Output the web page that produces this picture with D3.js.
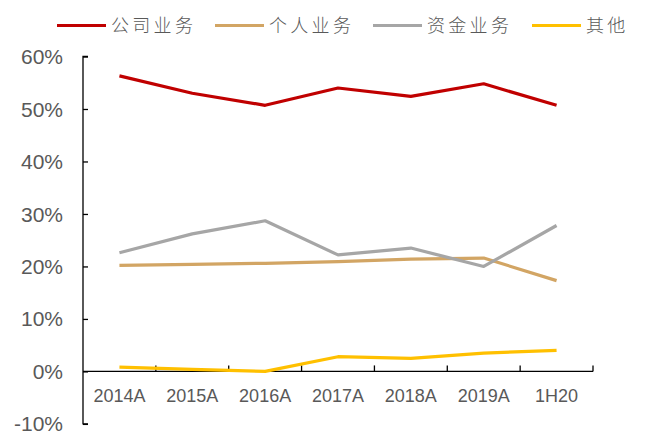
<!doctype html>
<html lang="zh">
<head>
<meta charset="utf-8">
<title>业务结构</title>
<style>
  body { margin: 0; background: #fff; }
  svg text { font-family: "Liberation Sans", Arial, sans-serif; fill: #595959; }
  .legend text { font-family: "Noto Sans CJK SC", sans-serif; font-weight: 300; }
</style>
</head>
<body>
<div id="chart"></div>
<script src="https://d3js.org/d3.v7.min.js"></script>
<script>
// categories and series (percent)
var years = ["2014A", "2015A", "2016A", "2017A", "2018A", "2019A", "1H20"];
var corporate = [56.3, 53.0, 50.7, 54.0, 52.4, 54.8, 50.7];   // 公司业务
var personal  = [20.2, 20.4, 20.6, 20.9, 21.4, 21.6, 17.3];   // 个人业务
var treasury  = [22.6, 26.2, 28.7, 22.2, 23.5, 20.0, 27.8];   // 资金业务
var other     = [0.8, 0.4, 0.0, 2.8, 2.5, 3.5, 4.0];          // 其他
var seriesNames = ["公司业务", "个人业务", "资金业务", "其他"];
var seriesColors = ["#C00000", "#D2A564", "#A6A6A6", "#FFC000"];
var yTicks = [-10, 0, 10, 20, 30, 40, 50, 60];

var width = 662, height = 436;
var margin = {top: 56.5, right: 69, bottom: 11.5, left: 83};

var svg = d3.select("#chart")
  .append("svg")
    .attr("width", width)
    .attr("height", height);

var x = d3.scaleBand()
  .domain(years)
  .range([margin.left, width - margin.right]);

var y = d3.scaleLinear()
  .domain([-10, 60])
  .range([height - margin.bottom - 0.6, margin.top]);

var series = [corporate, personal, treasury, other];

// y axis: ticks point inward
var yAxis = svg.append("g")
  .attr("transform", "translate(" + margin.left + ",0)")
  .call(d3.axisRight(y).tickValues(yTicks).tickSize(5).tickFormat(""));
yAxis.select(".domain").attr("d", "M5," + y(60) + "H0V" + y(-10) + "H5");
yAxis.selectAll("line, path").attr("stroke", "#000").attr("stroke-width", 1.3);

svg.selectAll(".ylab")
  .data(yTicks)
  .enter()
  .append("text")
    .attr("class", "ylab")
    .attr("x", margin.left - 20)
    .attr("y", function(d){ return y(d); })
    .attr("dy", "0.36em")
    .attr("text-anchor", "end")
    .attr("font-size", "21px")
    .text(function(d){ return d + "%"; });

// x axis at 0%, ticks between categories pointing up
var bounds = years.map(function(d){ return x(d); }).slice(1).concat([x.range()[1]]);
svg.append("line")
  .attr("x1", x.range()[0]).attr("x2", x.range()[1])
  .attr("y1", y(0)).attr("y2", y(0))
  .attr("stroke", "#000").attr("stroke-width", 1.3);
svg.selectAll(".xtick")
  .data(bounds)
  .enter()
  .append("line")
    .attr("x1", function(d){ return d; })
    .attr("x2", function(d){ return d; })
    .attr("y1", y(0))
    .attr("y2", y(0) - 6)
    .attr("stroke", "#000").attr("stroke-width", 1.3);

svg.selectAll(".xlab")
  .data(years)
  .enter()
  .append("text")
    .attr("class", "xlab")
    .attr("x", function(d){ return x(d) + x.bandwidth() / 2; })
    .attr("y", y(0) + 24)
    .attr("dy", "0.36em")
    .attr("text-anchor", "middle")
    .attr("font-size", "18px")
    .text(function(d){ return d; });

// lines
var line = d3.line()
  .x(function(d, i){ return x(years[i]) + x.bandwidth() / 2; })
  .y(function(d){ return y(d); });

svg.selectAll(".series")
  .data(series)
  .enter()
  .append("path")
    .attr("class", "series")
    .attr("d", line)
    .attr("fill", "none")
    .attr("stroke", function(d, i){ return seriesColors[i]; })
    .attr("stroke-width", 3.2)
    .attr("stroke-linejoin", "round");

// legend
var legendX = [57, 215, 373, 532];
var legend = svg.append("g").attr("class", "legend");
var item = legend.selectAll("g")
  .data(seriesNames)
  .enter()
  .append("g")
    .attr("transform", function(d, i){ return "translate(" + legendX[i] + ",25.5)"; });
item.append("line")
  .attr("x1", 0).attr("x2", 49)
  .attr("stroke", function(d, i){ return seriesColors[i]; })
  .attr("stroke-width", 3.2);
item.append("text")
  .attr("x", 54)
  .attr("dy", "0.36em")
  .attr("font-size", "18px")
  .attr("letter-spacing", "3.3px")
  .text(function(d){ return d; });
</script>
</body>
</html>
